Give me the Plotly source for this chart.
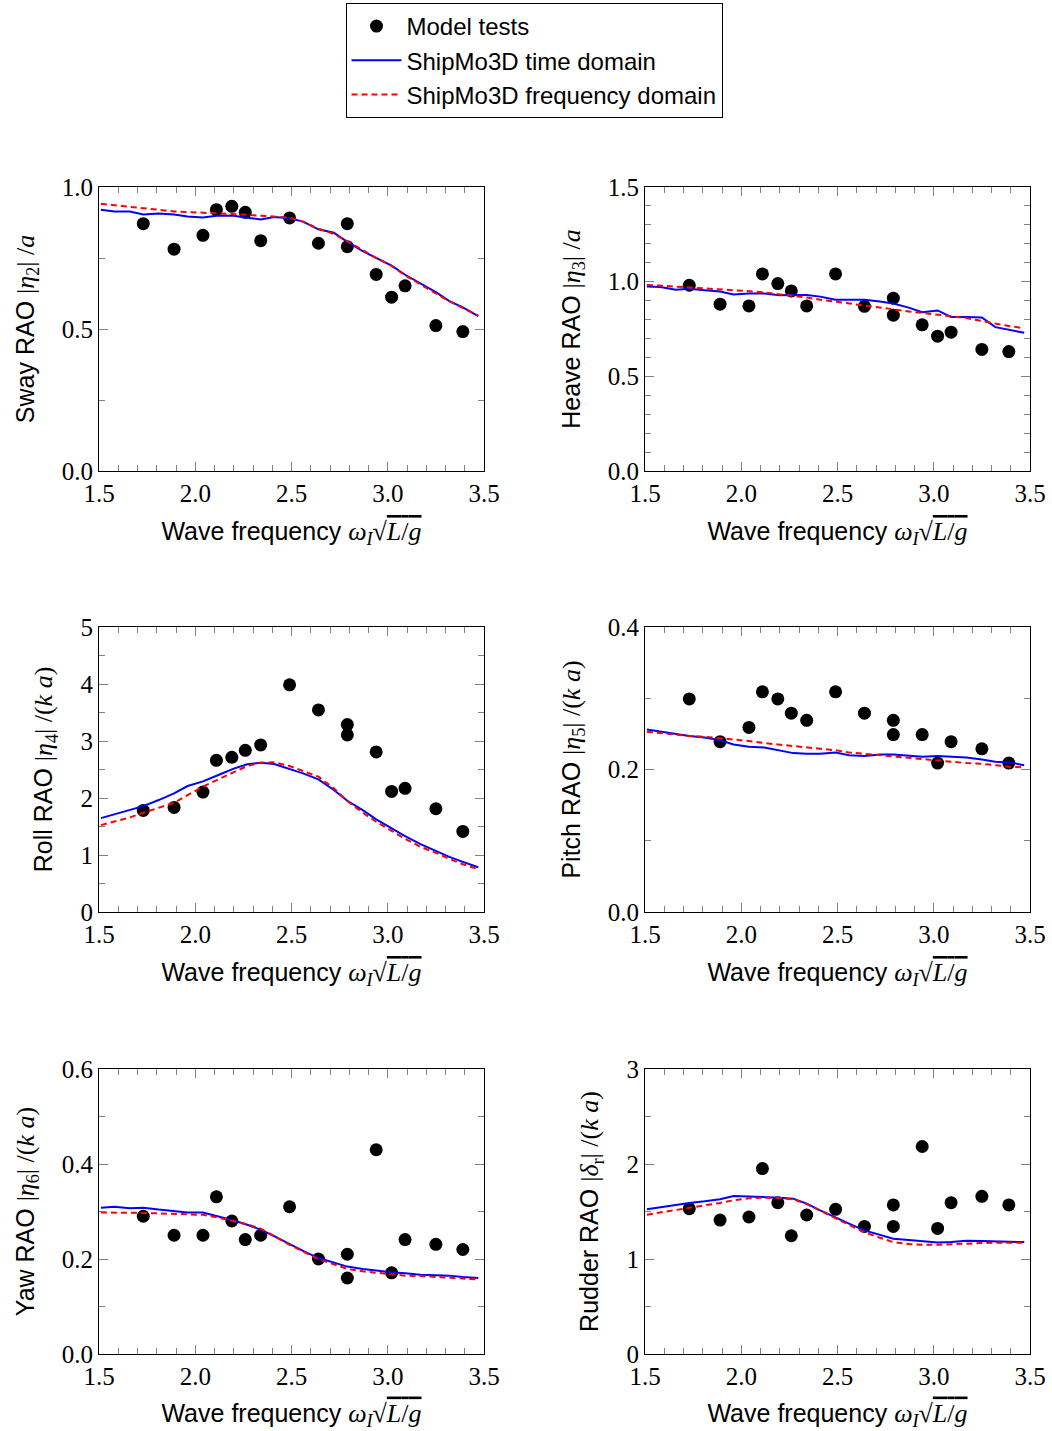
import plotly.graph_objects as go

# ---------------- data ----------------
x_tests = [1.73, 1.89, 2.04, 2.11, 2.19, 2.26, 2.34, 2.49, 2.64, 2.79, 2.79, 2.94, 3.02, 3.09, 3.25, 3.39]
x_sim = [1.51, 1.58, 1.66, 1.73, 1.81, 1.89, 1.96, 2.04, 2.12, 2.20, 2.27, 2.34, 2.41, 2.49,
         2.56, 2.64, 2.72, 2.79, 2.87, 2.94, 3.02, 3.09, 3.17, 3.25, 3.32, 3.39, 3.47]

sway_tests = [0.871, 0.781, 0.830, 0.920, 0.932, 0.911, 0.811, 0.891, 0.802, 0.871, 0.790, 0.692, 0.612, 0.652, 0.512, 0.491]
sway_time = [0.920, 0.914, 0.914, 0.903, 0.907, 0.903, 0.896, 0.893, 0.900, 0.899, 0.892, 0.886, 0.894, 0.890,
             0.878, 0.851, 0.839, 0.807, 0.774, 0.749, 0.723, 0.691, 0.659, 0.630, 0.598, 0.576, 0.545]
sway_freq = [0.941, 0.936, 0.930, 0.926, 0.920, 0.914, 0.912, 0.910, 0.907, 0.904, 0.902, 0.899, 0.896, 0.892,
             0.878, 0.853, 0.835, 0.809, 0.778, 0.750, 0.722, 0.689, 0.656, 0.625, 0.598, 0.574, 0.547]

heave_tests = [0.981, 0.881, 0.872, 1.041, 0.990, 0.951, 0.872, 1.041, 0.870, 0.913, 0.823, 0.772, 0.712, 0.733, 0.642, 0.631]
heave_time = [0.974, 0.972, 0.957, 0.962, 0.955, 0.948, 0.932, 0.937, 0.937, 0.928, 0.930, 0.930, 0.921, 0.904,
              0.904, 0.904, 0.895, 0.885, 0.863, 0.839, 0.848, 0.814, 0.814, 0.811, 0.760, 0.747, 0.730]
heave_freq = [0.983, 0.979, 0.975, 0.971, 0.966, 0.960, 0.955, 0.950, 0.943, 0.934, 0.926, 0.916, 0.905, 0.894,
              0.883, 0.871, 0.862, 0.853, 0.843, 0.835, 0.826, 0.818, 0.808, 0.792, 0.778, 0.766, 0.754]

roll_tests = [1.782, 1.835, 2.104, 2.661, 2.714, 2.837, 2.931, 3.986, 3.546, 3.288, 3.107, 2.808, 2.116, 2.169, 1.811, 1.413]
roll_time = [1.647, 1.717, 1.799, 1.858, 1.964, 2.081, 2.210, 2.292, 2.403, 2.515, 2.591, 2.620, 2.597, 2.515,
             2.433, 2.327, 2.140, 1.952, 1.788, 1.624, 1.465, 1.331, 1.190, 1.073, 0.967, 0.879, 0.785]
roll_freq = [1.524, 1.589, 1.659, 1.741, 1.829, 1.917, 2.052, 2.198, 2.327, 2.456, 2.562, 2.620, 2.626, 2.562,
             2.480, 2.374, 2.169, 1.946, 1.741, 1.583, 1.424, 1.284, 1.143, 1.038, 0.932, 0.838, 0.750]

pitch_tests = [0.299, 0.239, 0.259, 0.309, 0.299, 0.279, 0.269, 0.309, 0.279, 0.269, 0.249, 0.249, 0.209, 0.239, 0.229, 0.209]
pitch_time = [0.256, 0.253, 0.250, 0.247, 0.245, 0.241, 0.235, 0.232, 0.231, 0.227, 0.223, 0.222, 0.222, 0.224,
              0.220, 0.219, 0.221, 0.221, 0.219, 0.218, 0.219, 0.218, 0.217, 0.214, 0.211, 0.210, 0.206]
pitch_freq = [0.253, 0.251, 0.249, 0.247, 0.246, 0.244, 0.242, 0.240, 0.237, 0.235, 0.233, 0.231, 0.229, 0.227,
              0.224, 0.222, 0.220, 0.219, 0.217, 0.215, 0.213, 0.211, 0.209, 0.208, 0.206, 0.204, 0.203]

yaw_tests = [0.290, 0.250, 0.250, 0.331, 0.280, 0.241, 0.250, 0.310, 0.200, 0.210, 0.160, 0.430, 0.171, 0.241, 0.231, 0.220]
yaw_time = [0.308, 0.310, 0.307, 0.308, 0.304, 0.300, 0.298, 0.298, 0.290, 0.281, 0.272, 0.262, 0.248, 0.231,
            0.217, 0.202, 0.192, 0.184, 0.179, 0.175, 0.172, 0.170, 0.167, 0.166, 0.165, 0.162, 0.160]
yaw_freq = [0.298, 0.298, 0.298, 0.297, 0.296, 0.295, 0.294, 0.293, 0.287, 0.279, 0.273, 0.264, 0.248, 0.230,
            0.216, 0.199, 0.189, 0.179, 0.174, 0.171, 0.168, 0.165, 0.164, 0.162, 0.160, 0.159, 0.157]

rudder_tests = [1.530, 1.410, 1.442, 1.952, 1.593, 1.245, 1.463, 1.523, 1.343, 1.569, 1.343, 2.184, 1.322, 1.593, 1.660, 1.569]
rudder_time = [1.523, 1.544, 1.572, 1.590, 1.607, 1.628, 1.664, 1.660, 1.657, 1.646, 1.635, 1.583, 1.512, 1.435,
               1.372, 1.301, 1.256, 1.213, 1.199, 1.189, 1.175, 1.178, 1.192, 1.189, 1.189, 1.182, 1.178]
rudder_freq = [1.467, 1.488, 1.516, 1.540, 1.565, 1.590, 1.618, 1.639, 1.646, 1.642, 1.628, 1.579, 1.509, 1.424,
               1.354, 1.280, 1.224, 1.178, 1.157, 1.150, 1.150, 1.157, 1.164, 1.168, 1.171, 1.171, 1.171]

x_ticks = [1.5, 2.0, 2.5, 3.0, 3.5]

SERIF = "Liberation Serif"
SANS = "Liberation Sans"

def m(s):
    return f"<span style='font-family:{SERIF};font-size:26px'>{s}</span>"

panels = [
    dict(tests=sway_tests, time=sway_time, freq=sway_freq, rng=[0, 1.0], dtick=0.5, minor=0.25, fmt=".1f",
         title="Sway RAO " + m("|<i>η</i><sub>2</sub>| /<i>a</i>")),
    dict(tests=heave_tests, time=heave_time, freq=heave_freq, rng=[0, 1.5], dtick=0.5, minor=0.1, fmt=".1f",
         title="Heave RAO " + m("|<i>η</i><sub>3</sub>| /<i>a</i>")),
    dict(tests=roll_tests, time=roll_time, freq=roll_freq, rng=[0, 5], dtick=1, minor=0.5, fmt="d",
         title="Roll RAO " + m("|<i>η</i><sub>4</sub>| /(<i>k a</i>)")),
    dict(tests=pitch_tests, time=pitch_time, freq=pitch_freq, rng=[0, 0.4], dtick=0.2, minor=0.1, fmt=".1f",
         title="Pitch RAO " + m("|<i>η</i><sub>5</sub>| /(<i>k a</i>)")),
    dict(tests=yaw_tests, time=yaw_time, freq=yaw_freq, rng=[0, 0.6], dtick=0.2, minor=0.1, fmt=".1f",
         title="Yaw RAO " + m("|<i>η</i><sub>6</sub>| /(<i>k a</i>)")),
    dict(tests=rudder_tests, time=rudder_time, freq=rudder_freq, rng=[0, 3], dtick=1, minor=0.5, fmt="d",
         title="Rudder RAO " + m("|<i>δ</i><sub>r</sub>| /(<i>k a</i>)")),
]

W, H = 1052, 1431
xdoms = [[99 / W, 484 / W], [645 / W, 1030 / W]]
ydoms = [[1 - 471 / H, 1 - 187 / H], [1 - 912 / H, 1 - 627 / H], [1 - 1354 / H, 1 - 1069 / H]]

fig = go.Figure()
layout = {}
xtitle = "Wave frequency " + m("<i>ω<sub>I</sub></i>√<span style='text-decoration:overline'><i>L</i>/<i>g</i></span>")

for i, p in enumerate(panels):
    r, c = divmod(i, 2)
    n = i + 1
    xa = "x" if n == 1 else f"x{n}"
    ya = "y" if n == 1 else f"y{n}"
    fig.add_trace(go.Scatter(x=x_tests, y=p["tests"], mode="markers", xaxis=xa, yaxis=ya,
                             marker=dict(color="black", size=13, symbol="circle"),
                             name="Model tests", showlegend=(i == 0)))
    fig.add_trace(go.Scatter(x=x_sim, y=p["time"], mode="lines", xaxis=xa, yaxis=ya,
                             line=dict(color="#0000ff", width=2),
                             name="ShipMo3D time domain", showlegend=(i == 0)))
    fig.add_trace(go.Scatter(x=x_sim, y=p["freq"], mode="lines", xaxis=xa, yaxis=ya,
                             line=dict(color="#ff0000", width=2, dash="6px,4px"),
                             name="ShipMo3D frequency domain", showlegend=(i == 0)))
    common = dict(showline=True, linecolor="black", linewidth=1, mirror="ticks", ticks="inside",
                  ticklen=9, tickwidth=1, tickcolor="#808080", showgrid=False, zeroline=False,
                  tickfont=dict(family=SERIF, size=25, color="black"))
    layout["xaxis" if n == 1 else f"xaxis{n}"] = dict(
        domain=xdoms[c], anchor=ya, range=[1.5, 3.5], tickmode="array", tickvals=x_ticks,
        ticktext=[f"{v:.1f}" for v in x_ticks],
        minor=dict(ticks="inside", dtick=0.1, ticklen=6, tickcolor="#808080", tick0=1.5),
        title=dict(text=xtitle, font=dict(family=SANS, size=25, color="black"), standoff=16),
        **common)
    nt = int(round(p["rng"][1] / p["dtick"]))
    yvals = [round(k * p["dtick"], 6) for k in range(nt + 1)]
    ytext = [format(v, p["fmt"]) if p["fmt"] != "d" else str(int(round(v))) for v in yvals]
    layout["yaxis" if n == 1 else f"yaxis{n}"] = dict(
        domain=ydoms[r], anchor=xa, range=p["rng"], tickmode="array", tickvals=yvals, ticktext=ytext,
        minor=dict(ticks="inside", dtick=p["minor"], ticklen=6, tickcolor="#808080", tick0=0),
        title=dict(text=p["title"], font=dict(family=SANS, size=25, color="black"), standoff=20),
        **common)

fig.update_layout(
    width=W, height=H, autosize=False,
    margin=dict(l=0, r=0, t=0, b=0, autoexpand=False),
    paper_bgcolor="white", plot_bgcolor="white",
    font=dict(family=SANS, size=25, color="black"),
    legend=dict(x=534 / W, xanchor="center", y=1 - 3 / H, yanchor="top",
                bordercolor="black", borderwidth=1, bgcolor="white",
                font=dict(family=SANS, size=24, color="black"),
                itemwidth=50, tracegroupgap=0),
    **layout,
)

fig.write_html("out.html")
